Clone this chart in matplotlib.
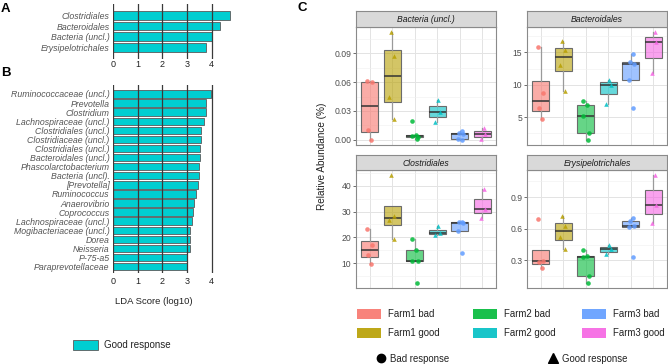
import numpy as np
import matplotlib.pyplot as plt
from matplotlib.patches import Rectangle
from matplotlib.colors import to_rgba

plt.rcParams['font.family'] = ['Liberation Sans', 'DejaVu Sans']

W, H = 668, 364

# ---- LDA scores (panels A and B)
taxa_a = ['Clostridiales', 'Bacteroidales', 'Bacteria (uncl.)', 'Erysipelotrichales']
lda_a = [4.73, 4.32, 4.02, 3.78]

taxa_b = ['Ruminococcaceae (uncl.)', 'Prevotella', 'Clostridium',
          'Lachnospiraceae (uncl.)', 'Clostridiales (uncl.)', 'Clostridiaceae (uncl.)',
          'Clostridiales (uncl.)', 'Bacteroidales (uncl.)', 'Phascolarctobacterium',
          'Bacteria (uncl).', '[Prevotella]', 'Ruminococcus', 'Anaerovibrio',
          'Coprococcus', 'Lachnospiraceae (uncl.)', 'Mogibacteriaceae (uncl.)',
          'Dorea', 'Neisseria', 'P-75-a5', 'Paraprevotellaceae']
lda_b = [3.98, 3.78, 3.78, 3.69, 3.58, 3.56, 3.54, 3.52, 3.49, 3.47,
         3.46, 3.36, 3.27, 3.24, 3.21, 3.13, 3.11, 3.11, 3.01, 2.98]

# ---- relative abundance (panel C), one list per group
groups = ['Farm1 bad', 'Farm1 good', 'Farm2 bad', 'Farm2 good', 'Farm3 bad', 'Farm3 good']
colors = ['#F8766D', '#B79F00', '#00BA38', '#00BFC4', '#619CFF', '#F564E3']

bacteria_uncl = [[0.000, 0.010, 0.060, 0.061],
                 [0.022, 0.045, 0.087, 0.112],
                 [0.0005, 0.003, 0.004, 0.005, 0.0195],
                 [0.018, 0.029, 0.0415],
                 [0.000, 0.0003, 0.0062, 0.0072, 0.0085],
                 [0.0003, 0.006, 0.0118]]
bacteroidales = [[4.75, 6.4, 8.7, 15.9],
                 [9.1, 13.05, 15.4, 16.7],
                 [1.5, 2.5, 5.15, 6.9, 7.5],
                 [7.0, 10.0, 10.8],
                 [6.4, 10.8, 13.25, 13.5, 14.75],
                 [11.8, 16.6, 18.1]]
clostridiales = [[9.6, 13.3, 17.1, 23.4],
                 [19.4, 26.8, 28.3, 44.1],
                 [2.4, 10.9, 11.0, 15.2, 19.5],
                 [20.8, 21.6, 24.3],
                 [14.0, 22.3, 25.7, 25.9, 26.1],
                 [27.7, 30.9, 38.8]]
erysipelotrichales = [[0.225, 0.282, 0.298, 0.693],
                      [0.407, 0.523, 0.63, 0.718],
                      [0.089, 0.149, 0.328, 0.343, 0.394],
                      [0.357, 0.407, 0.447],
                      [0.334, 0.617, 0.63, 0.67, 0.702],
                      [0.658, 0.828, 1.105]]

# horizontal jitter of the points (fraction of group spacing)
jitter = [[0.08, -0.05, 0.1, -0.12],
          [0.1, -0.12, 0.08, -0.05],
          [0.12, 0.15, -0.1, 0.05, -0.12],
          [-0.1, 0.12, 0.05],
          [0.08, -0.1, 0.12, -0.05, 0.1],
          [-0.08, 0.12, 0.05]]


def px_axes(fig, left, top, right, bottom, **kw):
    return fig.add_axes([left / W, 1 - bottom / H, (right - left) / W, (bottom - top) / H], **kw)


def lda_panel(ax, names, scores, row_top, row_bottom, pad):
    y = np.arange(len(names))
    ax.barh(y, scores, height=0.82, color='#00CED1', edgecolor='#5a5a5a', linewidth=0.6, zorder=1)
    for v in range(5):
        ax.axvline(v, color='#3a3a3a', lw=0.9, zorder=2)
    ax.set_xlim(0, 4.9)
    ax.set_ylim(len(names) - 1 + row_bottom, -row_top)
    ax.set_yticks(y)
    ax.set_yticklabels(names, style='italic', color='#555555', fontsize=6.3)
    ax.set_xticks(range(5))
    ax.set_xticklabels([str(v) for v in range(5)], fontsize=6.5, color='#222222')
    ax.tick_params(axis='y', length=0, pad=2.5)
    ax.tick_params(axis='x', length=0, pad=pad)
    for s in ax.spines.values():
        s.set_visible(False)
    ax.patch.set_alpha(0)


def box_panel(fig, rect, strip_top, title, data, ticks, labels):
    left, top, right, bottom = rect
    ax = px_axes(fig, left, top, right, bottom)
    for i, vals in enumerate(data):
        x = i + 1
        ax.boxplot(vals, positions=[x], widths=0.75, patch_artist=True, showfliers=False,
                   showcaps=False, whis=1.5, manage_ticks=False,
                   boxprops=dict(facecolor=to_rgba(colors[i], 0.6), edgecolor='#6b6b6b', lw=0.8),
                   medianprops=dict(color='#333333', lw=1.1),
                   whiskerprops=dict(color='#9a9a9a', lw=0.9), zorder=2)
        marker = 'o' if i % 2 == 0 else '^'
        xs = x + np.array(jitter[i][:len(vals)])
        ax.plot(xs, vals, ls='none', marker=marker, ms=3.3, mew=0, color=colors[i], alpha=0.85, zorder=3)
    lo = min(min(v) for v in data)
    hi = max(max(v) for v in data)
    span = hi - lo
    ax.set_xlim(0.4, 6.6)
    ax.set_xticks(range(1, 7))
    ax.set_xticklabels([])
    ax.set_yticks(ticks)
    ax.set_yticklabels(labels, fontsize=6.2, color='#4d4d4d')
    step = ticks[1] - ticks[0]
    ax.set_yticks([t + step / 2 for t in [ticks[0] - step] + ticks], minor=True)
    ax.set_ylim(lo - 0.05 * span, hi + 0.05 * span)
    ax.grid(True, which='major', color='#e3e3e3', lw=0.7, zorder=0)
    ax.grid(True, which='minor', axis='y', color='#f0f0f0', lw=0.4, zorder=0)
    ax.set_axisbelow(True)
    ax.tick_params(axis='x', length=0)
    ax.tick_params(axis='y', which='major', length=2, width=0.6, color='#555555', pad=1.5)
    ax.tick_params(axis='y', which='minor', length=0)
    for s in ax.spines.values():
        s.set_color('#8a8a8a')
        s.set_linewidth(0.8)
    st = px_axes(fig, left, strip_top, right, top)
    st.set_facecolor('#d9d9d9')
    st.set_xticks([])
    st.set_yticks([])
    for s in st.spines.values():
        s.set_color('#8a8a8a')
        s.set_linewidth(0.8)
    st.text(0.5, 0.45, title, transform=st.transAxes, ha='center', va='center',
            style='italic', fontsize=6.2, color='#1a1a1a')
    return ax


fig = plt.figure(figsize=(W / 100, H / 100), dpi=100)

ax_a = px_axes(fig, 113, 4, 234, 59)
lda_panel(ax_a, taxa_a, lda_a, 1.07, 1.08, 1.0)
ax_b = px_axes(fig, 113, 85, 234, 273)
lda_panel(ax_b, taxa_b, lda_b, 0.99, 0.7, 3.0)

box_panel(fig, (356, 27, 496, 145), 11, 'Bacteria (uncl.)', bacteria_uncl,
          [0.0, 0.03, 0.06, 0.09], ['0.00', '0.03', '0.06', '0.09'])
box_panel(fig, (527, 27, 667, 145), 11, 'Bacteroidales', bacteroidales,
          [5, 10, 15], ['5', '10', '15'])
box_panel(fig, (356, 170, 496, 288), 155, 'Clostridiales', clostridiales,
          [10, 20, 30, 40], ['10', '20', '30', '40'])
box_panel(fig, (527, 170, 667, 288), 155, 'Erysipelotrichales', erysipelotrichales,
          [0.3, 0.6, 0.9], ['0.3', '0.6', '0.9'])

# overlay in pixel coordinates for letters, axis titles and legends
ov = fig.add_axes([0, 0, 1, 1])
ov.set_xlim(0, W)
ov.set_ylim(H, 0)
ov.axis('off')
ov.patch.set_alpha(0)

for letter, (lx, ly) in zip('ABC', [(1, 9), (1, 73), (297, 8)]):
    ov.text(lx, ly, letter, fontsize=9.5, fontweight='bold', ha='left', va='center')

ov.text(154, 302, 'LDA Score (log10)', fontsize=6.8, ha='center', va='center', color='#222222')
ov.add_patch(Rectangle((73, 339.5), 25, 10.5, facecolor='#00CED1', edgecolor='#5a5a5a', lw=0.6))
ov.text(104, 345, 'Good response', fontsize=7, ha='left', va='center', color='#222222')

ov.text(322, 156, 'Relative Abundance (%)', rotation=90, fontsize=7.2, ha='center', va='center',
        color='#222222')

col_x = [357, 473, 582]
row_y = [308.5, 327.5]
for i, name in enumerate(groups):
    cx = col_x[i // 2]
    cy = row_y[i % 2]
    ov.add_patch(Rectangle((cx, cy), 24, 10.5, facecolor=to_rgba(colors[i], 0.9), edgecolor='none'))
    ov.text(cx + 31, cy + 5.5, name, fontsize=6.9, ha='left', va='center', color='#222222')

ov.plot([381], [358], marker='o', ms=6, color='black', ls='none')
ov.text(390, 358.5, 'Bad response', fontsize=6.9, ha='left', va='center', color='#222222')
ov.plot([553], [357.5], marker='^', ms=7, color='black', ls='none')
ov.text(562, 358.5, 'Good response', fontsize=6.9, ha='left', va='center', color='#222222')

fig.savefig('out.png', dpi=100)
